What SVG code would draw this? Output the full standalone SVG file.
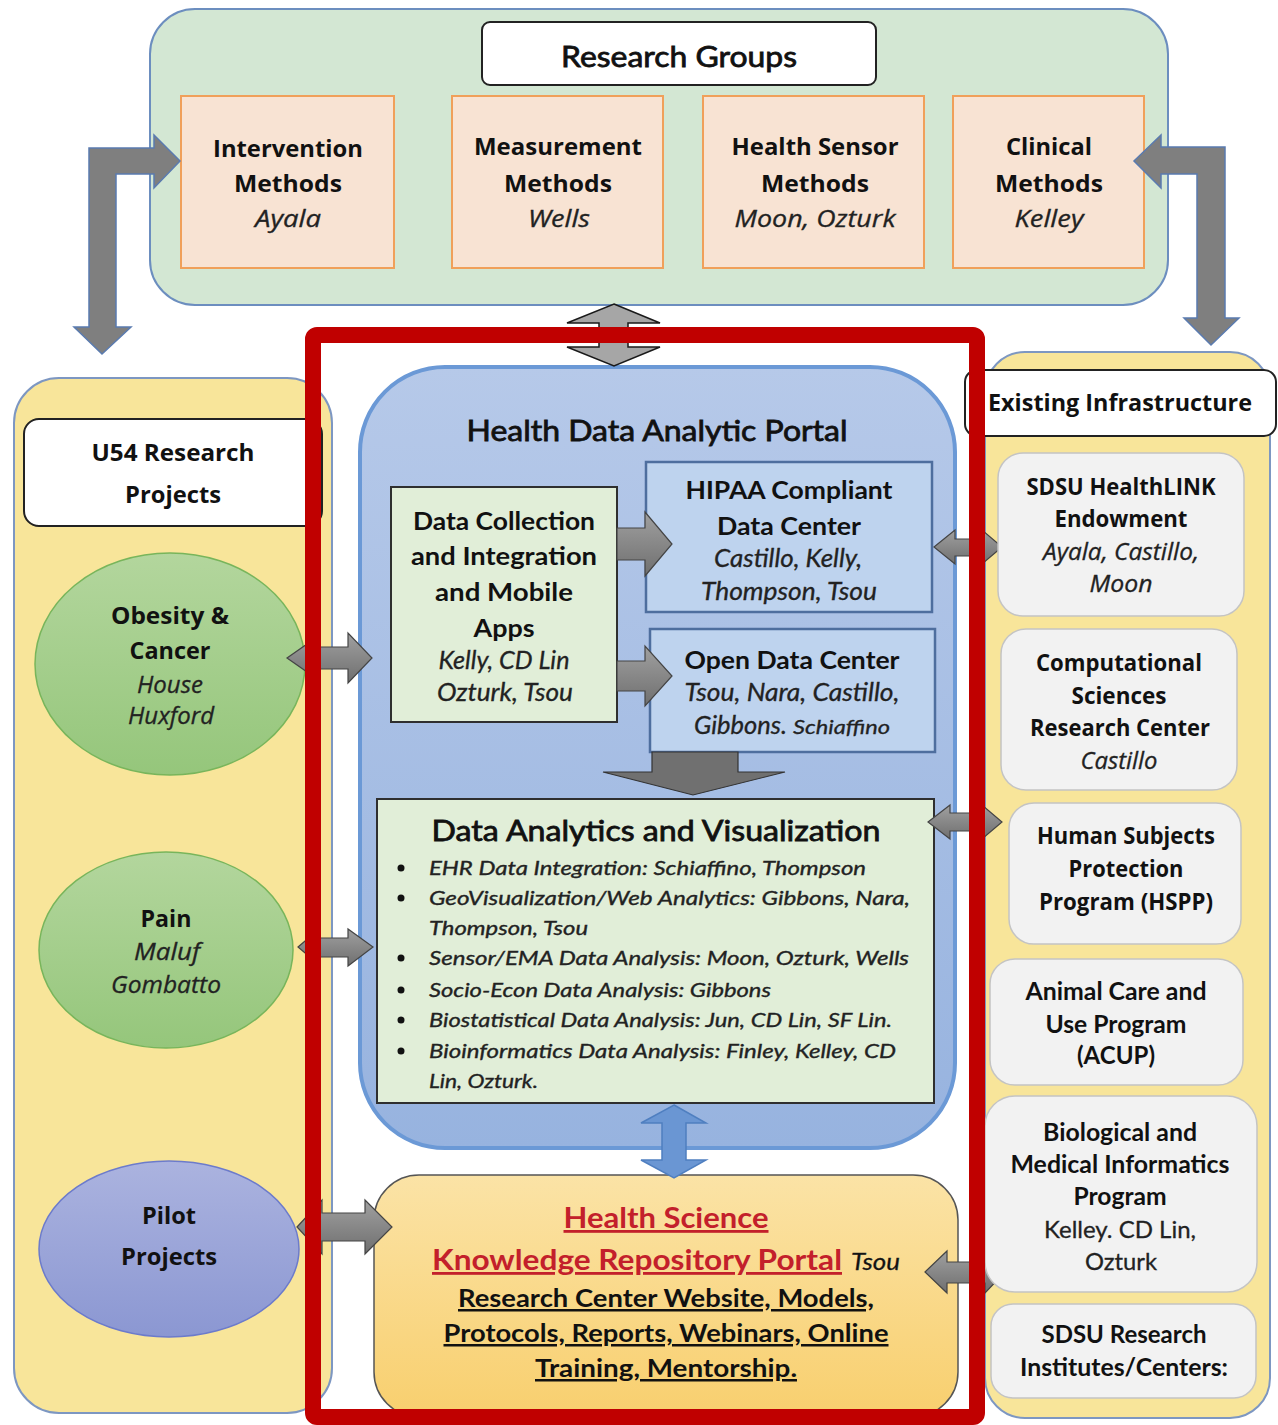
<svg xmlns="http://www.w3.org/2000/svg" width="1278" height="1425" viewBox="0 0 1278 1425">
<defs>
<linearGradient id="gEll" x1="0" y1="0" x2="0" y2="1"><stop offset="0" stop-color="#b3d69d"/><stop offset="1" stop-color="#95c67b"/></linearGradient>
<linearGradient id="gPilot" x1="0" y1="0" x2="0" y2="1"><stop offset="0" stop-color="#abb3df"/><stop offset="1" stop-color="#8b97d2"/></linearGradient>
<linearGradient id="gPortal" x1="0" y1="0" x2="0" y2="1"><stop offset="0" stop-color="#b6c9e9"/><stop offset="1" stop-color="#97b3df"/></linearGradient>
<linearGradient id="gKnow" x1="0" y1="0" x2="0" y2="1"><stop offset="0" stop-color="#fbe3a6"/><stop offset="1" stop-color="#f8cf6e"/></linearGradient>
<linearGradient id="gArr" x1="0" y1="0" x2="0" y2="1"><stop offset="0" stop-color="#a0a0a0"/><stop offset="1" stop-color="#6f6f6f"/></linearGradient>
<style>
.t{font-family:"Open Sans","DejaVu Sans",sans-serif;font-weight:bold;font-size:23px;fill:#111;text-anchor:middle}
.ti{font-family:"Open Sans","DejaVu Sans",sans-serif;font-style:italic;font-size:23px;fill:#222;text-anchor:middle;stroke:#222;stroke-width:0.3}
.cb{font-family:Lato,"Liberation Sans",sans-serif;font-weight:bold;font-size:25px;fill:#111;text-anchor:middle}
.ci{font-family:Lato,"Liberation Sans",sans-serif;font-style:italic;font-size:25px;fill:#222;text-anchor:middle;stroke:#222;stroke-width:0.3}
.cr{font-family:Lato,"Liberation Sans",sans-serif;font-size:24px;fill:#222;text-anchor:middle;stroke:#222;stroke-width:0.3}
.h{font-family:Lato,"Liberation Sans",sans-serif;font-size:29px;fill:#111;text-anchor:middle;stroke:#111;stroke-width:0.8}
.b{font-family:Lato,"Liberation Sans",sans-serif;font-style:italic;font-size:20px;fill:#222;stroke:#222;stroke-width:0.35}
.k{font-family:Lato,"Liberation Sans",sans-serif;font-weight:bold;text-anchor:middle;text-decoration:underline}
.lbl{fill:#fff;stroke:#222;stroke-width:2}
.org{fill:#f8e3d3;stroke:#f0a05a;stroke-width:2}
.yel{fill:#f8e59a;stroke:#7d97c2;stroke-width:2}
.gry{fill:#f2f2f2;stroke:#c4c4c4;stroke-width:1.5}
.grn{fill:#e1eed8;stroke:#2f2f2f;stroke-width:2}
.blu{fill:#bed3ee;stroke:#4e6e9e;stroke-width:2.5}
.arr{fill:url(#gArr);stroke:#444;stroke-width:1.2}
.elb{fill:#7f7f7f;stroke:#5a7bb0;stroke-width:1.5}
</style>
</defs>
<rect width="1278" height="1425" fill="#fff"/>

<g id="research-groups">
<rect x="150" y="9" width="1018" height="296" rx="45" fill="#d3e7d3" stroke="#6c8ebf" stroke-width="2"/>
<rect class="lbl" x="482" y="22" width="394" height="63" rx="8"/>
<text class="h" x="679" y="67" textLength="236" lengthAdjust="spacingAndGlyphs">Research Groups</text>
</g>
<g id="intervention">
<rect class="org" x="181" y="96" width="213" height="172"/>
<text class="t" x="288" y="157" textLength="150" lengthAdjust="spacingAndGlyphs">Intervention</text>
<text class="t" x="288" y="192" textLength="108" lengthAdjust="spacingAndGlyphs">Methods</text>
<text class="ti" x="288" y="227" textLength="66" lengthAdjust="spacingAndGlyphs">Ayala</text>
</g>
<g id="measurement">
<rect class="org" x="452" y="96" width="211" height="172"/>
<text class="t" x="558" y="155" textLength="168" lengthAdjust="spacingAndGlyphs">Measurement</text>
<text class="t" x="558" y="192" textLength="108" lengthAdjust="spacingAndGlyphs">Methods</text>
<text class="ti" x="559" y="227" textLength="62" lengthAdjust="spacingAndGlyphs">Wells</text>
</g>
<g id="health-sensor">
<rect class="org" x="703" y="96" width="221" height="172"/>
<text class="t" x="815" y="155" textLength="167" lengthAdjust="spacingAndGlyphs">Health Sensor</text>
<text class="t" x="815" y="192" textLength="108" lengthAdjust="spacingAndGlyphs">Methods</text>
<text class="ti" x="815" y="227" textLength="161" lengthAdjust="spacingAndGlyphs">Moon, Ozturk</text>
</g>
<g id="clinical">
<rect class="org" x="953" y="96" width="191" height="172"/>
<text class="t" x="1049" y="155" textLength="86" lengthAdjust="spacingAndGlyphs">Clinical</text>
<text class="t" x="1049" y="192" textLength="108" lengthAdjust="spacingAndGlyphs">Methods</text>
<text class="ti" x="1049" y="227" textLength="69" lengthAdjust="spacingAndGlyphs">Kelley</text>
</g>

<g id="u54-projects">
<rect class="yel" x="14" y="378" width="318" height="1035" rx="45"/>
<rect class="lbl" x="24" y="419" width="298" height="107" rx="15"/>
<text class="t" x="173" y="461" textLength="163" lengthAdjust="spacingAndGlyphs">U54 Research</text>
<text class="t" x="173" y="503" textLength="96" lengthAdjust="spacingAndGlyphs">Projects</text>
</g>
<g id="obesity">
<ellipse cx="170" cy="664" rx="135" ry="111" fill="url(#gEll)" stroke="#78b55b" stroke-width="1.5"/>
<text class="t" x="170" y="624" textLength="118" lengthAdjust="spacingAndGlyphs">Obesity &amp;</text>
<text class="t" x="170" y="659" textLength="81" lengthAdjust="spacingAndGlyphs">Cancer</text>
<text class="ti" x="170" y="693" textLength="66" lengthAdjust="spacingAndGlyphs">House</text>
<text class="ti" x="171" y="724" textLength="86" lengthAdjust="spacingAndGlyphs">Huxford</text>
</g>
<g id="pain">
<ellipse cx="166" cy="950" rx="127" ry="98" fill="url(#gEll)" stroke="#78b55b" stroke-width="1.5"/>
<text class="t" x="166" y="927" textLength="51" lengthAdjust="spacingAndGlyphs">Pain</text>
<text class="ti" x="167" y="960" textLength="66" lengthAdjust="spacingAndGlyphs">Maluf</text>
<text class="ti" x="166" y="993" textLength="110" lengthAdjust="spacingAndGlyphs">Gombatto</text>
</g>
<g id="pilot">
<ellipse cx="169" cy="1249" rx="130" ry="88" fill="url(#gPilot)" stroke="#6c7bcb" stroke-width="1.5"/>
<text class="t" x="169" y="1224" textLength="54" lengthAdjust="spacingAndGlyphs">Pilot</text>
<text class="t" x="169" y="1265" textLength="96" lengthAdjust="spacingAndGlyphs">Projects</text>
</g>

<g id="existing-infrastructure">
<rect class="yel" x="985" y="352" width="285" height="1066" rx="40"/>
<rect class="lbl" x="965" y="370" width="311" height="66" rx="12"/>
<text class="t" x="1120" y="411" textLength="264" lengthAdjust="spacingAndGlyphs">Existing Infrastructure</text>
</g>

<g id="portal">
<rect x="360" y="367" width="595" height="781" rx="85" fill="url(#gPortal)" stroke="#6b99d6" stroke-width="4"/>
<text class="h" x="657" y="441" textLength="381" lengthAdjust="spacingAndGlyphs">Health Data Analytic Portal</text>
</g>
<g id="data-collection">
<rect class="grn" x="391" y="487" width="226" height="235"/>
<text class="cb" x="504" y="530" textLength="182" lengthAdjust="spacingAndGlyphs">Data Collection</text>
<text class="cb" x="504" y="565" textLength="186" lengthAdjust="spacingAndGlyphs">and Integration</text>
<text class="cb" x="504" y="601" textLength="138" lengthAdjust="spacingAndGlyphs">and Mobile</text>
<text class="cb" x="504" y="637" textLength="61" lengthAdjust="spacingAndGlyphs">Apps</text>
<text class="ci" x="504" y="669" textLength="131" lengthAdjust="spacingAndGlyphs">Kelly, CD Lin</text>
<text class="ci" x="505" y="701" textLength="136" lengthAdjust="spacingAndGlyphs">Ozturk, Tsou</text>
</g>
<g id="hipaa">
<rect class="blu" x="646" y="462" width="286" height="150"/>
<text class="cb" x="789" y="499" textLength="207" lengthAdjust="spacingAndGlyphs">HIPAA Compliant</text>
<text class="cb" x="789" y="535" textLength="144" lengthAdjust="spacingAndGlyphs">Data Center</text>
<text class="ci" x="788" y="567" textLength="148" lengthAdjust="spacingAndGlyphs">Castillo, Kelly,</text>
<text class="ci" x="789" y="600" textLength="176" lengthAdjust="spacingAndGlyphs">Thompson, Tsou</text>
</g>
<g id="open-data">
<rect class="blu" x="650" y="629" width="285" height="123"/>
<text class="cb" x="792" y="669" textLength="215" lengthAdjust="spacingAndGlyphs">Open Data Center</text>
<text class="ci" x="792" y="701" textLength="215" lengthAdjust="spacingAndGlyphs">Tsou, Nara, Castillo,</text>
<text class="ci" x="694" y="734" style="text-anchor:start" textLength="93" lengthAdjust="spacingAndGlyphs">Gibbons.</text>
<text class="ci" x="793" y="734" style="text-anchor:start;font-size:20px" textLength="97" lengthAdjust="spacingAndGlyphs">Schiaffino</text>
</g>
<g id="analytics">
<rect class="grn" x="377" y="799" width="557" height="304"/>
<text class="h" x="656" y="841" textLength="449" lengthAdjust="spacingAndGlyphs">Data Analytics and Visualization</text>
<g fill="#111">
<circle cx="401" cy="868" r="3.5"/><circle cx="401" cy="898" r="3.5"/><circle cx="401" cy="958" r="3.5"/>
<circle cx="401" cy="990" r="3.5"/><circle cx="401" cy="1020" r="3.5"/><circle cx="401" cy="1051" r="3.5"/>
</g>
<text class="b" x="429" y="875" textLength="437" lengthAdjust="spacingAndGlyphs">EHR Data Integration: Schiaffino, Thompson</text>
<text class="b" x="429" y="905" textLength="481" lengthAdjust="spacingAndGlyphs">GeoVisualization/Web Analytics: Gibbons, Nara,</text>
<text class="b" x="429" y="935" textLength="159" lengthAdjust="spacingAndGlyphs">Thompson, Tsou</text>
<text class="b" x="429" y="965" textLength="480" lengthAdjust="spacingAndGlyphs">Sensor/EMA Data Analysis: Moon, Ozturk, Wells</text>
<text class="b" x="429" y="997" textLength="342" lengthAdjust="spacingAndGlyphs">Socio-Econ Data Analysis: Gibbons</text>
<text class="b" x="429" y="1027" textLength="463" lengthAdjust="spacingAndGlyphs">Biostatistical Data Analysis: Jun, CD Lin, SF Lin.</text>
<text class="b" x="429" y="1058" textLength="467" lengthAdjust="spacingAndGlyphs">Bioinformatics Data Analysis: Finley, Kelley, CD</text>
<text class="b" x="429" y="1088" textLength="109" lengthAdjust="spacingAndGlyphs">Lin, Ozturk.</text>
</g>
<g id="knowledge-portal">
<rect x="374" y="1175" width="584" height="242" rx="45" fill="url(#gKnow)" stroke="#555" stroke-width="1.5"/>
<text class="k" x="666" y="1228" style="font-size:28px;fill:#c3202b" textLength="205" lengthAdjust="spacingAndGlyphs">Health Science</text>
<text class="k" x="432" y="1270" style="font-size:28px;fill:#c3202b;text-anchor:start" textLength="410" lengthAdjust="spacingAndGlyphs">Knowledge Repository Portal</text>
<text class="ci" x="851" y="1270" style="text-anchor:start;font-size:24px;fill:#111" textLength="49" lengthAdjust="spacingAndGlyphs">Tsou</text>
<text class="k" x="666" y="1307" style="font-size:25px;fill:#111" textLength="416" lengthAdjust="spacingAndGlyphs">Research Center Website, Models,</text>
<text class="k" x="666" y="1342" style="font-size:25px;fill:#111" textLength="445" lengthAdjust="spacingAndGlyphs">Protocols, Reports, Webinars, Online</text>
<text class="k" x="666" y="1377" style="font-size:25px;fill:#111" textLength="262" lengthAdjust="spacingAndGlyphs">Training, Mentorship.</text>
</g>

<g id="connectors">
<path class="elb" d="M89,327 L74,327 L102,354 L131,327 L116,327 L116,174 L154,174 L154,188 L180,161 L154,135 L154,148 L89,148 Z"/>
<path class="elb" d="M1225,318 L1239,318 L1211,345 L1184,318 L1197,318 L1197,174 L1161,174 L1161,188 L1134,161 L1161,135 L1161,147 L1225,147 Z"/>
<path d="M614,304 L660,323 L628,323 L628,347 L660,347 L614,366 L567,347 L599,347 L599,323 L567,323 Z" fill="#a6a6a6" stroke="#1a1a1a" stroke-width="1.5"/>
<path class="arr" d="M287,658 L320,635 L320,647 L348,647 L348,633 L372,658 L348,683 L348,669 L320,669 L320,681 Z"/>
<path class="arr" d="M298,947 L318,930 L318,938 L348,938 L348,929 L373,947 L348,966 L348,957 L318,957 L318,964 Z"/>
<path class="arr" d="M297,1227 L322,1200 L322,1213 L365,1213 L365,1200 L392,1227 L365,1254 L365,1241 L322,1241 L322,1254 Z"/>
<path class="arr" d="M617,528 L645,528 L645,512 L672,544 L645,576 L645,560 L617,560 Z"/>
<path class="arr" d="M617,661 L645,661 L645,646 L672,676 L645,706 L645,691 L617,691 Z"/>
<path d="M652,752 L738,752 L738,772 L785,772 L693,795 L603,772 L652,772 Z" fill="#707070" stroke="#333" stroke-width="1.2"/>
<path d="M674,1105 L706,1123 L686,1123 L686,1160 L706,1160 L674,1178 L641,1160 L662,1160 L662,1123 L641,1123 Z" fill="#6a96d3" stroke="#4f7fc0" stroke-width="1.5"/>
<path class="arr" d="M934,547 L955,530 L955,539 L982,539 L982,530 L1002,547 L982,564 L982,556 L955,556 L955,564 Z"/>
<path class="arr" d="M928,822 L950,805 L950,813 L982,813 L982,805 L1002,822 L982,839 L982,831 L950,831 L950,839 Z"/>
<path class="arr" d="M925,1272 L947,1251 L947,1262 L985,1262 L985,1251 L1005,1272 L985,1293 L985,1283 L947,1283 L947,1293 Z"/>
</g>

<g id="healthlink">
<rect class="gry" x="998" y="453" width="246" height="163" rx="25"/>
<text class="t" x="1121" y="495" textLength="189" lengthAdjust="spacingAndGlyphs">SDSU HealthLINK</text>
<text class="t" x="1121" y="527" textLength="133" lengthAdjust="spacingAndGlyphs">Endowment</text>
<text class="ti" x="1121" y="560" textLength="156" lengthAdjust="spacingAndGlyphs">Ayala, Castillo,</text>
<text class="ti" x="1121" y="592" textLength="63" lengthAdjust="spacingAndGlyphs">Moon</text>
</g>
<g id="computational">
<rect class="gry" x="1001" y="629" width="236" height="161" rx="25"/>
<text class="t" x="1119" y="671" textLength="166" lengthAdjust="spacingAndGlyphs">Computational</text>
<text class="t" x="1119" y="704" textLength="95" lengthAdjust="spacingAndGlyphs">Sciences</text>
<text class="t" x="1120" y="736" textLength="180" lengthAdjust="spacingAndGlyphs">Research Center</text>
<text class="ti" x="1119" y="769" textLength="77" lengthAdjust="spacingAndGlyphs">Castillo</text>
</g>
<g id="hspp">
<rect class="gry" x="1009" y="803" width="232" height="141" rx="25"/>
<text class="t" x="1126" y="844" textLength="178" lengthAdjust="spacingAndGlyphs">Human Subjects</text>
<text class="t" x="1126" y="877" textLength="115" lengthAdjust="spacingAndGlyphs">Protection</text>
<text class="t" x="1126" y="910" textLength="174" lengthAdjust="spacingAndGlyphs">Program (HSPP)</text>
</g>
<g id="acup">
<rect class="gry" x="990" y="959" width="253" height="126" rx="25"/>
<text class="cb" x="1116" y="1000" textLength="181" lengthAdjust="spacingAndGlyphs">Animal Care and</text>
<text class="cb" x="1116" y="1033" textLength="141" lengthAdjust="spacingAndGlyphs">Use Program</text>
<text class="cb" x="1116" y="1064" textLength="78" lengthAdjust="spacingAndGlyphs">(ACUP)</text>
</g>
<g id="bmip">
<rect class="gry" x="985" y="1096" width="272" height="196" rx="30"/>
<text class="cb" x="1120" y="1141" textLength="154" lengthAdjust="spacingAndGlyphs">Biological and</text>
<text class="cb" x="1120" y="1173" textLength="219" lengthAdjust="spacingAndGlyphs">Medical Informatics</text>
<text class="cb" x="1120" y="1205" textLength="93" lengthAdjust="spacingAndGlyphs">Program</text>
<text class="cr" x="1120" y="1238" textLength="152" lengthAdjust="spacingAndGlyphs">Kelley. CD Lin,</text>
<text class="cr" x="1121" y="1270" textLength="72" lengthAdjust="spacingAndGlyphs">Ozturk</text>
</g>
<g id="sdsu-institutes">
<rect class="gry" x="991" y="1304" width="265" height="94" rx="22"/>
<text class="cb" x="1124" y="1343" textLength="165" lengthAdjust="spacingAndGlyphs">SDSU Research</text>
<text class="cb" x="1124" y="1376" textLength="208" lengthAdjust="spacingAndGlyphs">Institutes/Centers:</text>
</g>

<g id="highlight-frame">
<rect x="313" y="335" width="664" height="1082" rx="4" fill="none" stroke="#c00000" stroke-width="16"/>
</g>
</svg>
